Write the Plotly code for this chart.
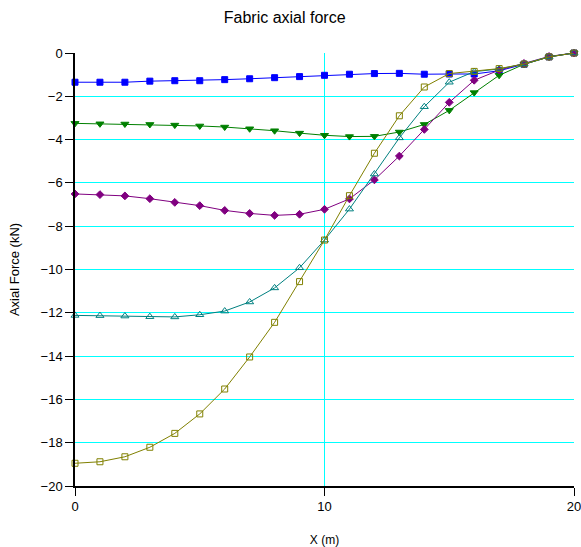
import plotly.graph_objects as go

x = list(range(21))

blue = [-1.35, -1.35, -1.35, -1.30, -1.28, -1.28, -1.23, -1.19, -1.14, -1.09, -1.03,
        -0.98, -0.95, -0.94, -0.98, -0.97, -0.97, -0.82, -0.52, -0.18, 0.0]
green = [-3.25, -3.27, -3.28, -3.30, -3.33, -3.37, -3.42, -3.50, -3.59, -3.70, -3.80,
         -3.86, -3.85, -3.65, -3.30, -2.65, -1.83, -1.03, -0.52, -0.18, 0.0]
purple = [-6.51, -6.54, -6.60, -6.73, -6.90, -7.05, -7.27, -7.41, -7.50, -7.45, -7.22,
          -6.74, -5.86, -4.76, -3.53, -2.28, -1.26, -0.79, -0.48, -0.16, 0.0]
teal = [-12.12, -12.13, -12.15, -12.18, -12.19, -12.09, -11.92, -11.50, -10.85, -9.92, -8.64,
        -7.21, -5.59, -3.92, -2.48, -1.35, -0.86, -0.74, -0.50, -0.17, 0.0]
olive = [-18.95, -18.88, -18.65, -18.21, -17.57, -16.67, -15.52, -14.04, -12.44, -10.56, -8.64,
         -6.59, -4.63, -2.90, -1.57, -0.95, -0.85, -0.72, -0.51, -0.18, 0.0]

series = [
    (blue, "#0000FF", "square", 6),
    (green, "#008000", "triangle-down", 7),
    (purple, "#800080", "diamond", 6),
    (teal, "#008080", "triangle-up-open", 7),
    (olive, "#808000", "square-open", 6),
]

fig = go.Figure()
for ys, col, sym, sz in series:
    fig.add_trace(go.Scatter(
        x=x, y=ys, mode="lines+markers",
        line=dict(color=col, width=1),
        marker=dict(symbol=sym, size=sz, color=col, line=dict(color=col, width=1)),
        showlegend=False, cliponaxis=False,
    ))

fig.update_layout(
    width=581, height=547,
    margin=dict(l=75, r=7, t=53, b=61, autoexpand=False),
    paper_bgcolor="white", plot_bgcolor="white",
    font=dict(family="Liberation Sans, Arial, sans-serif", size=12, color="black"),
    title=dict(text="Fabric axial force", x=0.49, xanchor="center", y=0.968, yanchor="middle",
               font=dict(size=16)),
)
fig.update_xaxes(
    range=[0, 20], tickvals=[0, 10, 20], showgrid=True, gridcolor="#00FFFF", gridwidth=1,
    zeroline=False, showline=True, linecolor="black", linewidth=1.5,
    ticks="outside", ticklen=8, tickcolor="black", automargin=False,
    ticklabeloverflow="allow",
    title=dict(text="X (m)", standoff=24, font=dict(size=12)),
    tickfont=dict(size=13),
)
fig.update_yaxes(
    range=[-20, 0], tickvals=list(range(-20, 1, 2)), showgrid=True, gridcolor="#00FFFF", gridwidth=1,
    zeroline=False, showline=True, linecolor="black", linewidth=1.5,
    ticks="outside", ticklen=8, tickcolor="black", automargin=False,
    ticklabeloverflow="allow",
    title=dict(text="Axial Force (kN)", standoff=18, font=dict(size=13)),
    tickfont=dict(size=13),
)

fig.write_html("out.html")
